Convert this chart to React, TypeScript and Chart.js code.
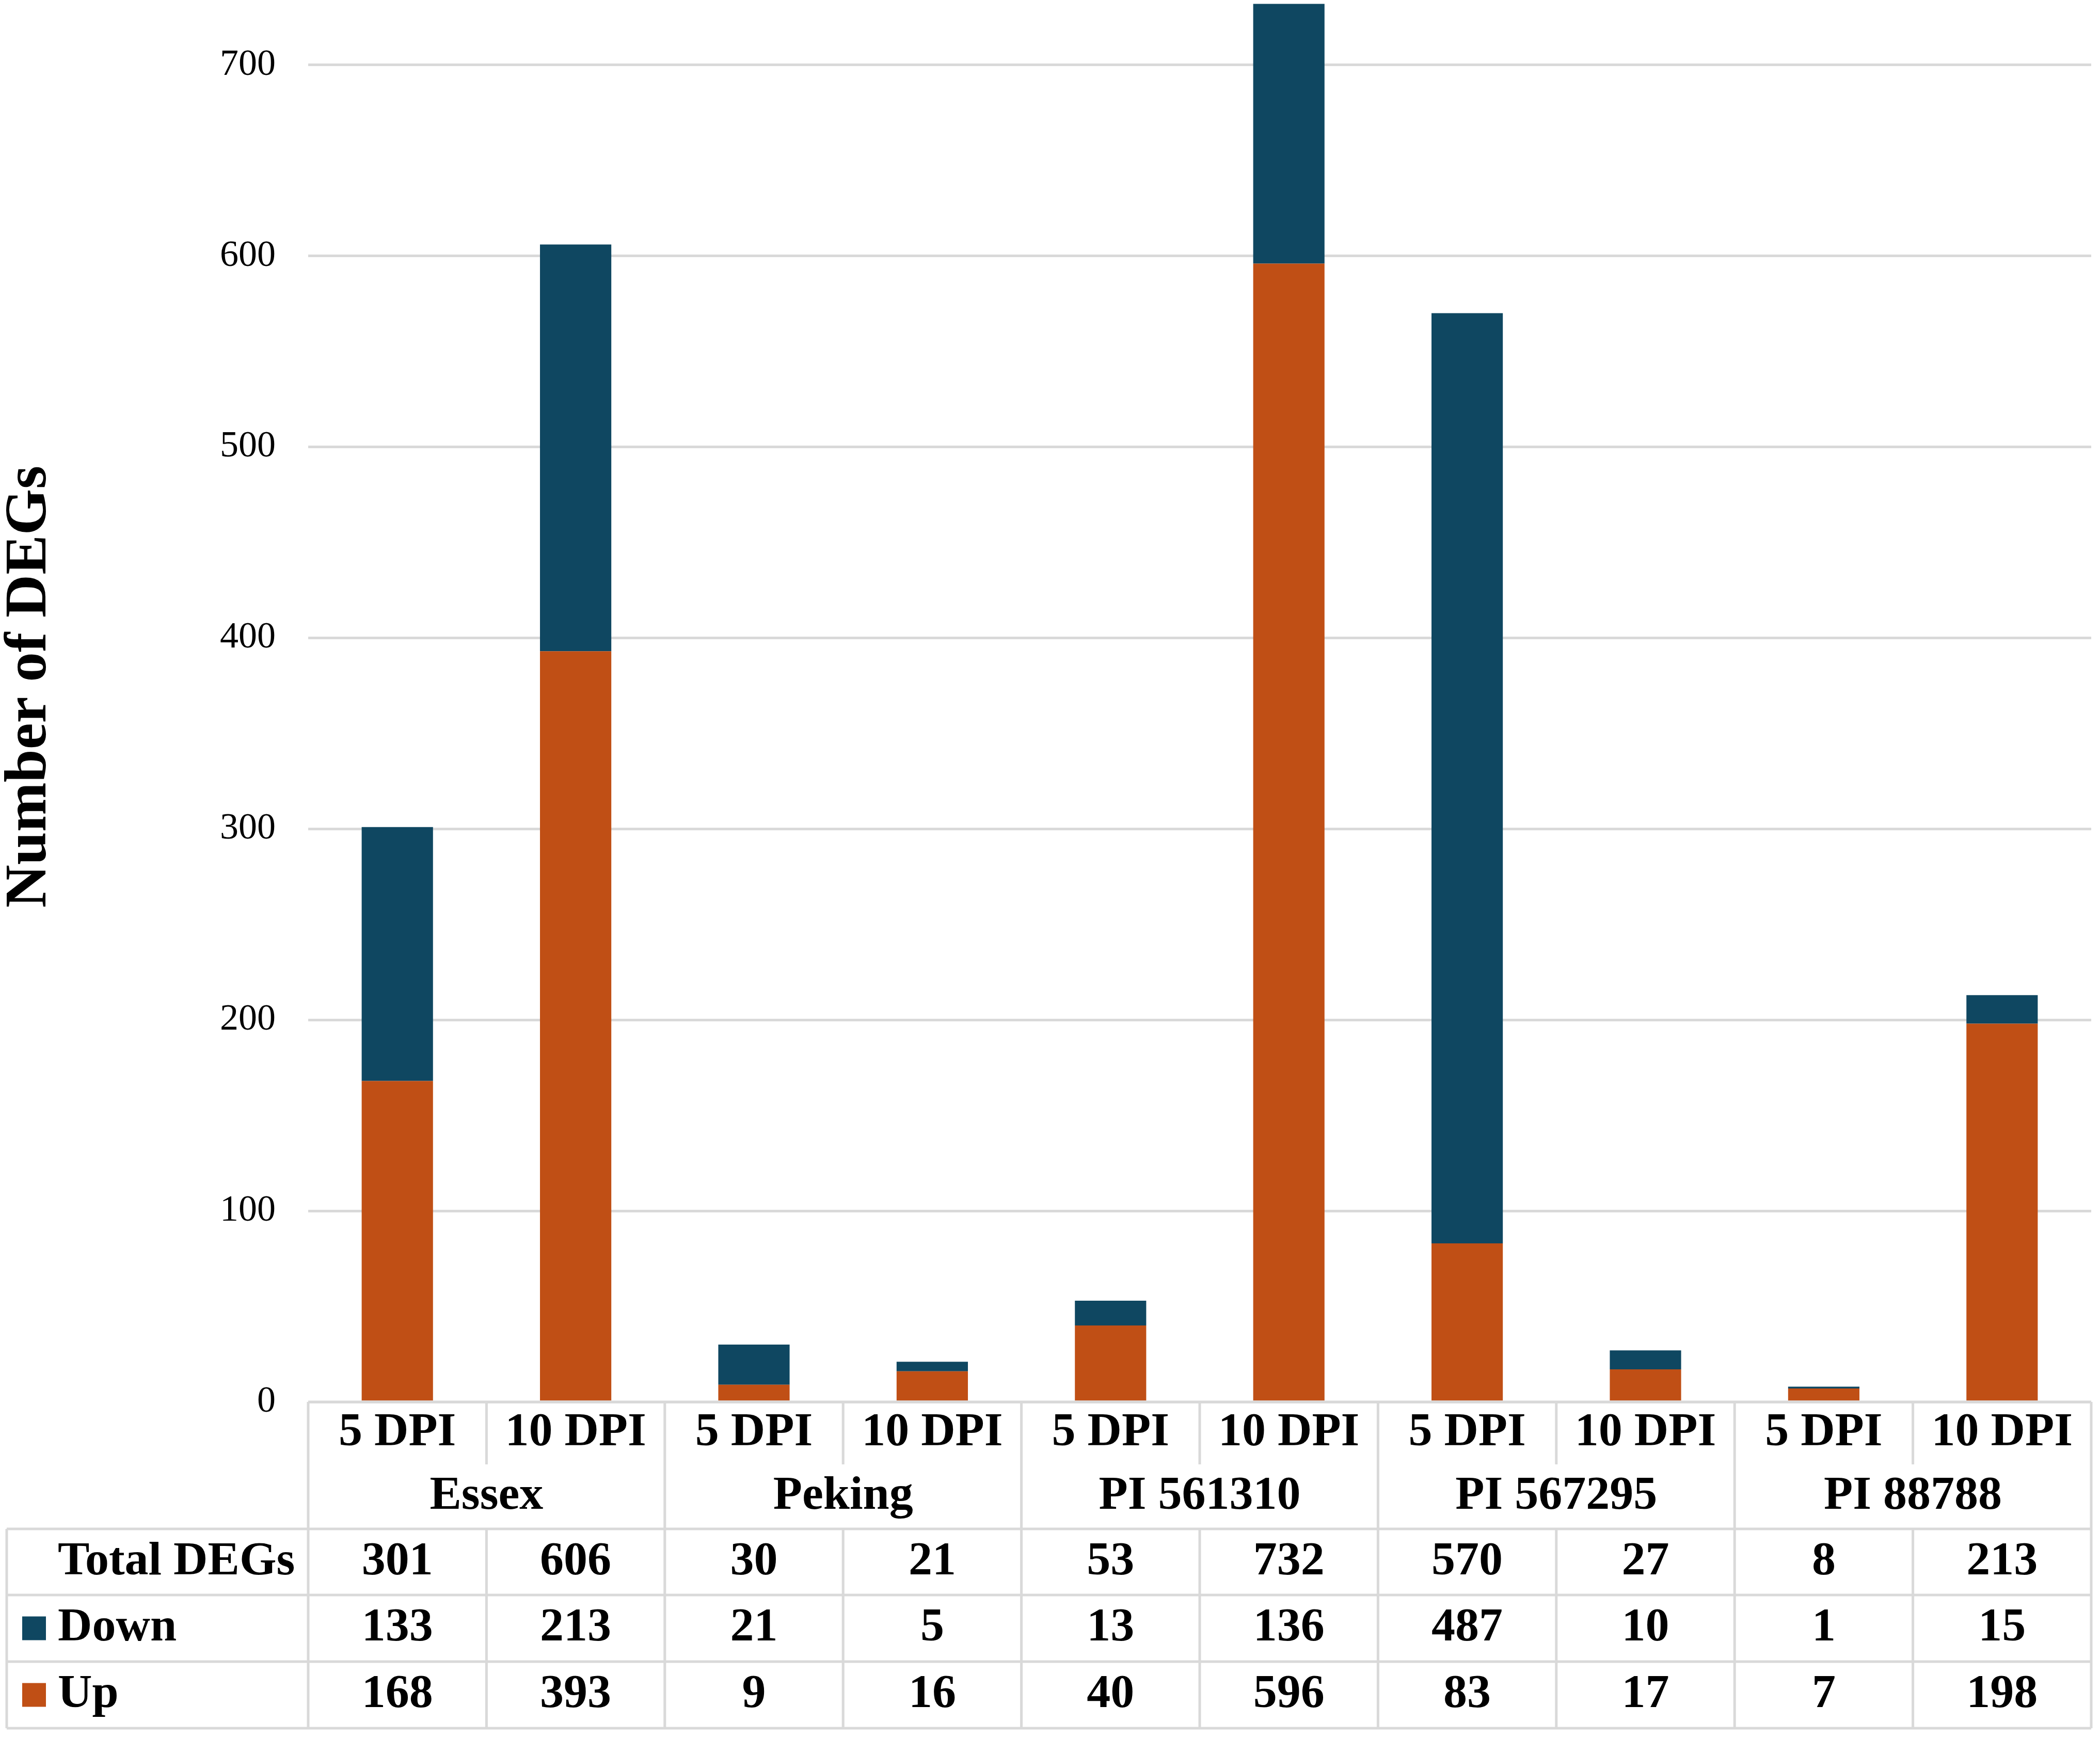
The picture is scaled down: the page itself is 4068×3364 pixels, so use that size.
import React, { useEffect, useRef } from "react";
import { Chart, registerables } from "chart.js";

Chart.register(...registerables);

const categories = ["5 DPI", "10 DPI", "5 DPI", "10 DPI", "5 DPI", "10 DPI", "5 DPI", "10 DPI", "5 DPI", "10 DPI"];
const groups = ["Essex", "Peking", "PI 561310", "PI 567295", "PI 88788"];
const downValues = [133, 213, 21, 5, 13, 136, 487, 10, 1, 15];
const upValues = [168, 393, 9, 16, 40, 596, 83, 17, 7, 198];
const totalValues = [301, 606, 30, 21, 53, 732, 570, 27, 8, 213];
const yTickValues = [0, 100, 200, 300, 400, 500, 600, 700];
const yMax = 734;

const DOWN_COLOR = "#0F4761";
const UP_COLOR = "#C04F15";
const LINE_COLOR = "#D9D9D9";
const FONT = "'Liberation Serif', 'Times New Roman', serif";

const W = 4068;
const H = 3364;

const tablePlugin = {
  id: "dataTable",
  afterDraw(chart: any) {
    const ctx = chart.ctx;
    const xs = chart.scales.x;
    const area = chart.chartArea;
    const n = categories.length;
    const cw = (area.right - area.left) / n;
    const tableLeft = 13;
    const r0 = area.bottom;
    const r1 = r0 + 121;
    const r2 = r0 + 246;
    const r3 = r0 + 374;
    const r4 = r0 + 503;
    const r5 = r0 + 632;

    ctx.save();
    ctx.strokeStyle = LINE_COLOR;
    ctx.lineWidth = 5;
    const line = (x1: number, y1: number, x2: number, y2: number) => {
      ctx.beginPath();
      ctx.moveTo(x1, y1);
      ctx.lineTo(x2, y2);
      ctx.stroke();
    };
    line(area.left, r0, area.right, r0);
    [r2, r3, r4, r5].forEach((y) => line(tableLeft, y, area.right, y));
    line(tableLeft, r2, tableLeft, r5);
    for (let i = 0; i <= n; i++) {
      const x = area.left + i * cw;
      if (i % 2 === 0) {
        line(x, r0, x, r5);
      } else {
        line(x, r0, x, r1);
        line(x, r2, x, r5);
      }
    }

    ctx.fillStyle = "#000";
    ctx.textBaseline = "middle";
    ctx.font = `bold 92px ${FONT}`;
    ctx.textAlign = "center";
    categories.forEach((c, i) => {
      const x = xs.getPixelForValue(i);
      ctx.fillText(c, x, (r0 + r1) / 2);
      ctx.fillText(String(totalValues[i]), x, (r2 + r3) / 2);
      ctx.fillText(String(downValues[i]), x, (r3 + r4) / 2);
      ctx.fillText(String(upValues[i]), x, (r4 + r5) / 2);
    });
    groups.forEach((g, gi) => {
      const x = (xs.getPixelForValue(gi * 2) + xs.getPixelForValue(gi * 2 + 1)) / 2;
      ctx.fillText(g, x, (r1 + r2) / 2);
    });

    ctx.textAlign = "left";
    const labelX = 112;
    ctx.fillText("Total DEGs", labelX, (r2 + r3) / 2);
    ctx.fillText("Down", labelX, (r3 + r4) / 2);
    ctx.fillText("Up", labelX, (r4 + r5) / 2);
    const key = 46;
    ctx.fillStyle = DOWN_COLOR;
    ctx.fillRect(43, (r3 + r4) / 2 - key / 2, key, key);
    ctx.fillStyle = UP_COLOR;
    ctx.fillRect(43, (r4 + r5) / 2 - key / 2, key, key);

    // y axis title
    ctx.fillStyle = "#000";
    ctx.translate(88, 1330);
    ctx.rotate(-Math.PI / 2);
    ctx.textAlign = "center";
    ctx.textBaseline = "alphabetic";
    ctx.font = `bold 115px ${FONT}`;
    ctx.fillText("Number of DEGs", 0, 0);
    ctx.restore();
  },
};

export default function App() {
  const canvasRef = useRef<HTMLCanvasElement | null>(null);

  useEffect(() => {
    document.body.style.margin = "0";
    document.body.style.overflow = "hidden";
    const canvas = canvasRef.current;
    if (!canvas) return;
    const chart = new Chart(canvas, {
      type: "bar",
      data: {
        labels: categories,
        datasets: [
          {
            label: "Up",
            data: upValues,
            backgroundColor: UP_COLOR,
            borderWidth: 0,
            categoryPercentage: 1,
            barPercentage: 0.4,
          },
          {
            label: "Down",
            data: downValues,
            backgroundColor: DOWN_COLOR,
            borderWidth: 0,
            categoryPercentage: 1,
            barPercentage: 0.4,
          },
        ],
      },
      options: {
        responsive: false,
        animation: false,
        devicePixelRatio: 1,
        layout: { padding: { left: 0, right: 17, top: 0, bottom: 649 } },
        plugins: {
          legend: { display: false },
          tooltip: { enabled: false },
        },
        scales: {
          x: {
            stacked: true,
            display: false,
            grid: { display: false },
          },
          y: {
            stacked: true,
            min: 0,
            max: yMax,
            afterBuildTicks: (scale: any) => {
              scale.ticks = yTickValues.map((v) => ({ value: v }));
            },
            afterFit: (scale: any) => {
              scale.width = 597;
              scale.paddingTop = 0;
              scale.paddingBottom = 0;
            },
            border: { display: false },
            grid: {
              color: LINE_COLOR,
              lineWidth: 5,
              drawTicks: false,
            },
            ticks: {
              stepSize: 100,
              padding: 63,
              color: "#000",
              font: { family: FONT, size: 72 },
            },
          },
        },
      },
      plugins: [tablePlugin],
    });
    return () => chart.destroy();
  }, []);

  return (
    <div style={{ width: W, height: H, background: "#fff" }}>
      <canvas ref={canvasRef} width={W} height={H} style={{ display: "block", width: W, height: H }} />
    </div>
  );
}
